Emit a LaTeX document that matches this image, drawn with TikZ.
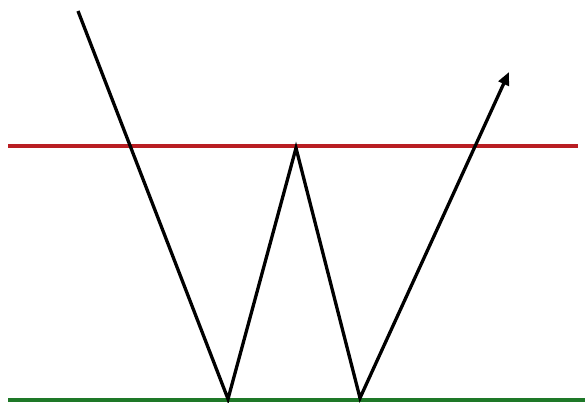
\documentclass[tikz,border=0pt]{standalone}
\usetikzlibrary{arrows.meta}
\definecolor{resred}{RGB}{185,30,35}
\definecolor{supgreen}{RGB}{30,120,40}
\tikzset{
  level/.style={line width=3.3pt},
  price/.style={line width=3.3pt, black, line join=miter},
}
\begin{document}
\begin{tikzpicture}[x=1pt,y=-1pt]
\useasboundingbox (0,0) rectangle (585,403);
\fill[white] (0,0) rectangle (585,403);
\coordinate (r1) at (8,146);
\coordinate (r2) at (578,146);
\coordinate (g1) at (8,400);
\coordinate (g2) at (585,400);
\draw[level, resred] (r1) -- (r2);
\draw[level, supgreen] (g1) -- (g2);
\coordinate (p0) at (78,11);
\coordinate (p1) at (228,399);
\coordinate (p2) at (296,148);
\coordinate (p3) at (360,398);
\coordinate (p4) at (509,72);
\draw[price, -{Triangle[length=13pt,width=11pt]}] (p0) -- (p1) -- (p2) -- (p3) -- (p4);
\end{tikzpicture}
\end{document}
